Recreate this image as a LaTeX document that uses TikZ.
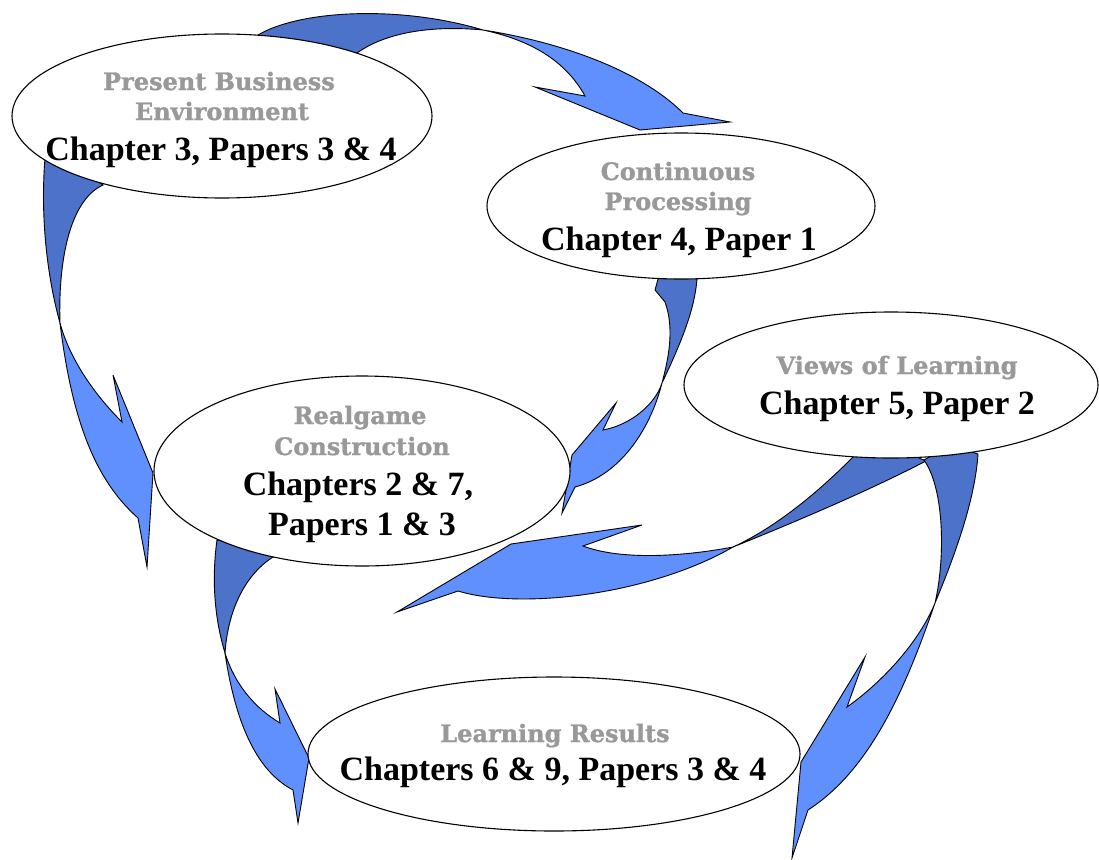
\documentclass[tikz,border=0pt]{standalone}
\usepackage{fontspec}
\setmainfont{Liberation Serif}
\newfontfamily\headfont[BoldFeatures={FakeBold=1.2}]{DejaVu Serif}
\usetikzlibrary{shapes.geometric}
\definecolor{dkblue}{RGB}{77,114,201}
\definecolor{ltblue}{RGB}{96,143,254}
\definecolor{headgray}{RGB}{153,153,153}
\begin{document}
\begin{tikzpicture}[x=1pt,y=-1pt,
  bubble/.style={ellipse,draw=black,line width=1.1pt,fill=white,inner sep=0pt},
  ribbonback/.style={fill=dkblue,draw=black,line width=0.9pt,line join=miter},
  ribbonfront/.style={fill=ltblue,draw=black,line width=0.9pt,line join=miter},
  headtext/.style={font=\headfont\bfseries\fontsize{24}{24}\selectfont,text=headgray,anchor=base,inner sep=0pt},
  reftext/.style={font=\bfseries\fontsize{34}{34}\selectfont,text=black,anchor=base,inner sep=0pt}]
\useasboundingbox (0,0) rectangle (1099,859);

% ---- curved arrows (twisted ribbons: dark back, light front) ----
% Present Business Environment -> Continuous Processing
\path[ribbonback] (258,35) .. controls (300,10) and (400,5) .. (483,30)
  .. controls (430,25) and (385,33) .. (357,53) -- (310,52) -- cycle;
\path[ribbonfront] (483,30) .. controls (560,42) and (640,70) .. (683,113)
  -- (730,122) -- (640,130) -- (535,87) -- (585,96)
  .. controls (565,60) and (530,40) .. (483,30) -- cycle;

% Present Business Environment -> Realgame Construction
\path[ribbonback] (45,158) .. controls (40,220) and (48,280) .. (60,323)
  .. controls (58,260) and (70,200) .. (103,185) -- (75,165) -- cycle;
\path[ribbonfront] (60,323) .. controls (72,420) and (95,480) .. (138,518)
  -- (147,567) -- (153,473) -- (113,375) -- (122,422)
  .. controls (95,395) and (70,360) .. (60,323) -- cycle;

% Continuous Processing -> Realgame Construction
\path[ribbonback] (658,279) -- (655,290) -- (665,302)
  .. controls (675,330) and (668,360) .. (662,383)
  .. controls (680,345) and (695,310) .. (697,278)
  -- (690,265) -- (665,265) -- cycle;
\path[ribbonfront] (662,383) .. controls (650,430) and (620,475) .. (575,487)
  -- (562,513) -- (572,455) -- (616,403) -- (603,430)
  .. controls (630,425) and (655,405) .. (662,383) -- cycle;

% Views of Learning -> Realgame Construction
\path[ribbonback] (851,459) .. controls (810,500) and (770,530) .. (733,547)
  .. controls (800,520) and (870,490) .. (926,461)
  -- (900,450) -- (860,450) -- cycle;
\path[ribbonfront] (733,547) .. controls (680,557) and (620,560) .. (583,546)
  -- (642,525) -- (511,544) -- (397,612) -- (458,591)
  .. controls (520,610) and (650,595) .. (733,547) -- cycle;

% Realgame Construction -> Learning Results
\path[ribbonback] (217,540) .. controls (210,590) and (218,630) .. (225,653)
  .. controls (228,610) and (245,575) .. (273,557) -- (250,545) -- cycle;
\path[ribbonfront] (225,653) .. controls (235,720) and (255,770) .. (293,790)
  -- (298,823) -- (309,758) -- (275,689) -- (280,723)
  .. controls (255,708) and (235,685) .. (225,653) -- cycle;

% Views of Learning -> Learning Results
\path[ribbonback] (924,460) .. controls (945,490) and (945,560) .. (935,603)
  .. controls (955,555) and (975,500) .. (978,454) -- (950,445) -- cycle;
\path[ribbonfront] (935,603) .. controls (905,690) and (870,770) .. (808,810)
  -- (792,858) -- (801,762) -- (865,657) -- (847,707)
  .. controls (885,680) and (920,640) .. (935,603) -- cycle;

% ---- topic bubbles ----
\node[bubble,minimum width=420pt,minimum height=164pt] (pbe) at (222,116) {};
\node[bubble,minimum width=388pt,minimum height=146pt] (cp) at (681,206) {};
\node[bubble,minimum width=414pt,minimum height=146pt] (vol) at (891,385) {};
\node[bubble,minimum width=416pt,minimum height=190pt] (rc) at (362,471) {};
\node[bubble,minimum width=492pt,minimum height=154pt] (lr) at (554,754) {};

% ---- bubble texts ----
\node[headtext] (pbe1) at (219,90) {Present Business};
\node[headtext] (pbe2) at (222,120) {Environment};
\node[reftext] (pbe3) at (221,160) {Chapter 3, Papers 3 \& 4};

\node[headtext] (cp1) at (678,180) {Continuous};
\node[headtext] (cp2) at (678,210) {Processing};
\node[reftext] (cp3) at (679,250) {Chapter 4, Paper 1};

\node[headtext] (vol1) at (897,374) {Views of Learning};
\node[reftext] (vol2) at (897,414) {Chapter 5, Paper 2};

\node[headtext] (rc1) at (360,424) {Realgame};
\node[headtext] (rc2) at (362,455) {Construction};
\node[reftext] (rc3) at (358,495) {Chapters 2 \& 7,};
\node[reftext] (rc4) at (362,535) {Papers 1 \& 3};

\node[headtext] (lr1) at (555,742) {Learning Results};
\node[reftext] (lr2) at (553,780) {Chapters 6 \& 9, Papers 3 \& 4};
\end{tikzpicture}
\end{document}
